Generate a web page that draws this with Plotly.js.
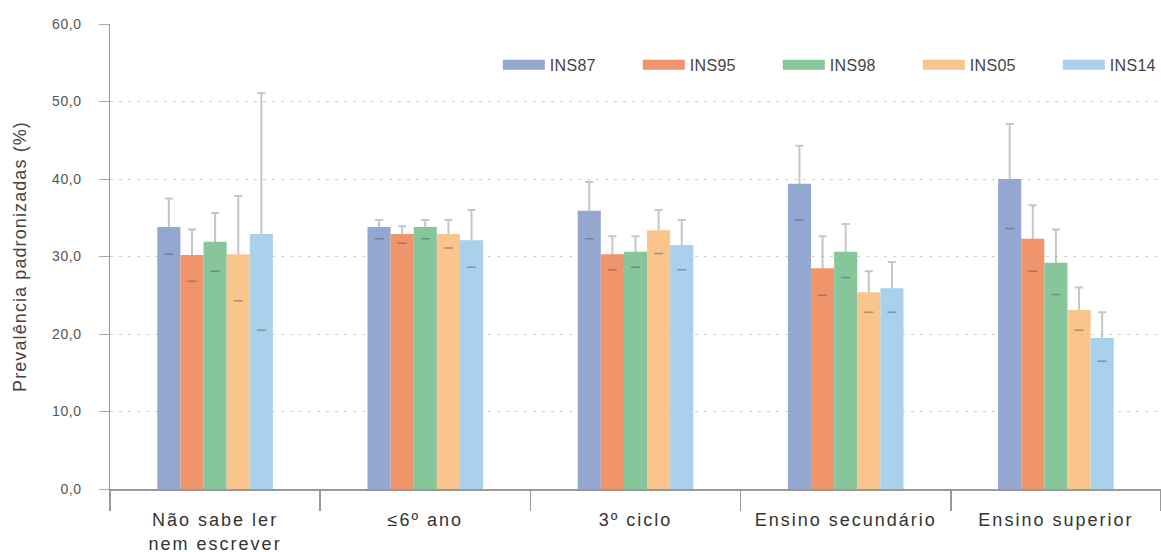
<!DOCTYPE html>
<html>
<head>
<meta charset="utf-8">
<script src="https://cdn.plot.ly/plotly-3.0.1.min.js"></script>
<style>
  html, body { margin: 0; padding: 0; background: #fff; }
  #chart { width: 1161px; height: 552px; }
  .xtick text { letter-spacing: 2px; }
  .ytick text { letter-spacing: 0.6px; }
  .ytitle { letter-spacing: 1.1px; }
  .legendtext { letter-spacing: 0.3px; }
</style>
</head>
<body>
<div id="chart"></div>
<script>
// Education level categories
const categories = ['Não sabe ler<br>nem escrever', '≤6º ano', '3º ciclo', 'Ensino secundário', 'Ensino superior'];

// Survey series names and colours
const seriesNames = ['INS87', 'INS95', 'INS98', 'INS05', 'INS14'];
const seriesColors = ['#93a7d0', '#f0946b', '#87c59b', '#f9c58d', '#a9d1ec'];

// Standardised prevalence (%) per survey
const ins87 = [33.8, 33.8, 35.9, 39.4, 40.0];
const ins95 = [30.2, 32.9, 30.3, 28.5, 32.3];
const ins98 = [31.9, 33.8, 30.6, 30.6, 29.2];
const ins05 = [30.3, 32.9, 33.4, 25.4, 23.1];
const ins14 = [32.9, 32.1, 31.5, 25.9, 19.5];

// Upper confidence limits
const ins87Upper = [37.5, 34.7, 39.6, 44.3, 47.1];
const ins95Upper = [33.5, 33.9, 32.6, 32.6, 36.6];
const ins98Upper = [35.6, 34.7, 32.6, 34.2, 33.5];
const ins05Upper = [37.8, 34.7, 36.0, 28.1, 26.0];
const ins14Upper = [51.1, 36.0, 34.7, 29.3, 22.8];

// Lower confidence limits
const ins87Lower = [30.3, 32.3, 32.3, 34.7, 33.6];
const ins95Lower = [26.8, 31.7, 28.3, 25.0, 28.1];
const ins98Lower = [28.1, 32.3, 28.6, 27.3, 25.1];
const ins05Lower = [24.3, 31.1, 30.4, 22.8, 20.5];
const ins14Lower = [20.5, 28.6, 28.3, 22.8, 16.5];

const values = [ins87, ins95, ins98, ins05, ins14];
const uppers = [ins87Upper, ins95Upper, ins98Upper, ins05Upper, ins14Upper];
const lowers = [ins87Lower, ins95Lower, ins98Lower, ins05Lower, ins14Lower];

const clear = 'rgba(0,0,0,0)';
const whiskers = [], bars = [], lowTicks = [], legendItems = [];

seriesNames.forEach((name, i) => {
  // Whisker: invisible bar up to the upper limit, error line running down to the axis
  // (the coloured bar drawn afterwards hides the part inside it)
  whiskers.push({
    type: 'bar', x: categories, y: uppers[i], offsetgroup: name, legendgroup: name,
    showlegend: false, hoverinfo: 'skip',
    marker: { color: clear, line: { width: 0 } },
    error_y: { type: 'percent', symmetric: false, value: 0, valueminus: 100,
               color: 'rgba(160,160,160,0.6)', thickness: 2, width: 4 }
  });
  // Prevalence bar
  bars.push({
    type: 'bar', name: name, x: categories, y: values[i], offsetgroup: name, legendgroup: name,
    showlegend: false, marker: { color: seriesColors[i], line: { width: 0 } },
    hovertemplate: name + ': %{y:.1f}<extra></extra>'
  });
  // Lower limit shown as a short dash inside the bar
  lowTicks.push({
    type: 'bar', x: categories, y: lowers[i], offsetgroup: name, legendgroup: name,
    showlegend: false, hoverinfo: 'skip',
    marker: { color: clear, line: { width: 0 } },
    error_y: { type: 'constant', value: 0, color: 'rgba(90,90,90,0.5)', thickness: 1.5, width: 4.5 }
  });
  // Legend swatch (a wide line key; the trace itself draws nothing)
  legendItems.push({
    type: 'scatter', mode: 'lines', name: name, x: [categories[0]], y: [null], legendgroup: name,
    line: { color: seriesColors[i], width: 10 }, hoverinfo: 'skip'
  });
});

const data = [...whiskers, ...bars, ...lowTicks, ...legendItems];

const font = '"Liberation Sans", Arial, Helvetica, sans-serif';

const layout = {
  width: 1161, height: 552,
  margin: { l: 110, r: 0, t: 24, b: 63, autoexpand: false },
  paper_bgcolor: '#ffffff', plot_bgcolor: '#ffffff',
  font: { family: font, color: '#444' },
  separators: ',.',
  barmode: 'group', bargap: 0.45, bargroupgap: 0,
  showlegend: true,
  legend: {
    orientation: 'h', x: 0.369, xanchor: 'left', y: 0.912, yanchor: 'middle',
    entrywidth: 83, entrywidthmode: 'pixels', itemwidth: 42,
    font: { family: font, size: 16, color: '#444' },
    bgcolor: clear, itemclick: false, itemdoubleclick: false
  },
  xaxis: {
    type: 'category', tickson: 'boundaries',
    ticks: 'outside', ticklen: 20, tickwidth: 1.5, tickcolor: '#999',
    ticklabelstandoff: 14,
    showline: true, linecolor: '#999', linewidth: 1.5,
    showgrid: false, zeroline: false,
    tickfont: { family: font, size: 18, color: '#333' }
  },
  yaxis: {
    range: [0, 60], dtick: 10, tickformat: '.1f',
    ticks: 'outside', ticklen: 10, tickwidth: 1, tickcolor: '#aaa',
    ticklabelstandoff: 14,
    showline: true, linecolor: '#999', linewidth: 1.5,
    showgrid: true, gridcolor: '#d0d0d0', griddash: '3px,6px', gridwidth: 1,
    zeroline: false,
    tickfont: { family: font, size: 14, color: '#555' },
    title: { text: 'Prevalência padronizadas (%)', standoff: 20,
             font: { family: font, size: 18, color: '#444' } }
  }
};

Plotly.newPlot('chart', data, layout, { displayModeBar: false, staticPlot: true });
</script>
</body>
</html>
